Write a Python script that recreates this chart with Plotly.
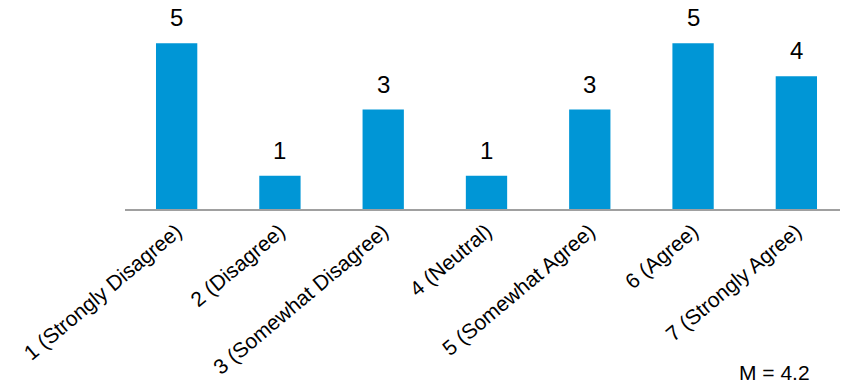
import plotly.graph_objects as go

# Likert response counts
categories = ["1 (Strongly Disagree)", "2 (Disagree)", "3 (Somewhat Disagree)",
              "4 (Neutral)", "5 (Somewhat Agree)", "6 (Agree)", "7 (Strongly Agree)"]
counts = [5, 1, 3, 1, 3, 5, 4]
mean_label = "M = 4.2"

fig = go.Figure()
fig.add_trace(go.Bar(
    x=categories,
    y=counts,
    marker_color="#0096D6",
    marker_line_width=0,
    cliponaxis=False,
))

# count labels above the bars
for cat, c in zip(categories, counts):
    fig.add_annotation(x=cat, y=c, text=str(c), showarrow=False,
                       xanchor="center", yanchor="bottom", yshift=10,
                       font=dict(size=24, color="#000000"))

fig.add_annotation(text=mean_label, xref="paper", yref="paper", x=0.899, y=-0.82,
                   xanchor="center", yanchor="middle", showarrow=False,
                   font=dict(size=21, color="#000000"))

# page body has an 8px margin, so the figure is sized to fit the window
fig.update_layout(
    width=840, height=374,
    margin=dict(l=117, r=0, t=2, b=173),
    plot_bgcolor="white", paper_bgcolor="white",
    bargap=0.6,
    showlegend=False,
    font=dict(family="Liberation Sans, Arial", size=21, color="#000000"),
)
fig.update_xaxes(tickangle=-40, showline=True, linecolor="#A0A0A0", linewidth=2,
                 ticks="", automargin=False, tickfont=dict(size=21))
fig.update_yaxes(range=[0, 6], visible=False, showgrid=False, zeroline=False)

fig.write_html("out.html")
